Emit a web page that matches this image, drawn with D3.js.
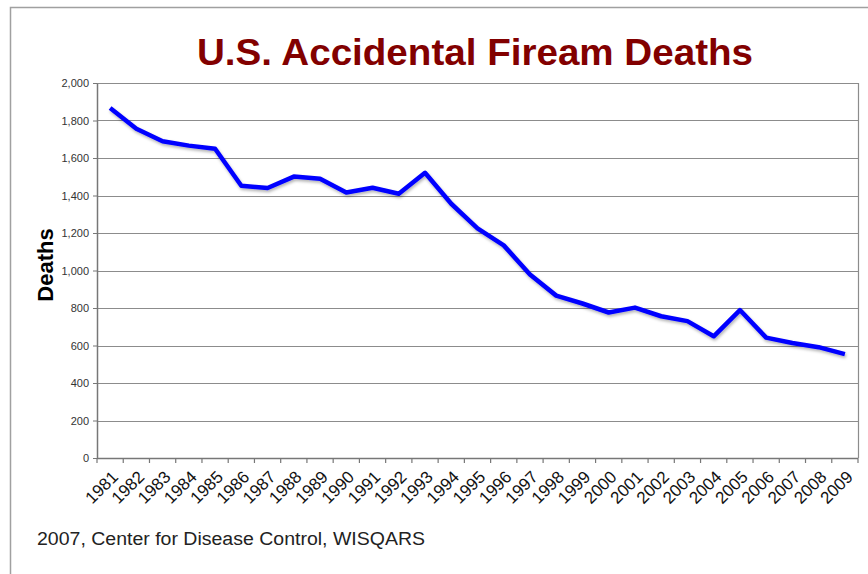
<!DOCTYPE html>
<html>
<head>
<meta charset="utf-8">
<script src="https://cdn.jsdelivr.net/npm/d3@7"></script>
<style>
  body { margin: 0; background: #fff; }
  svg { font-family: Arial, "Liberation Sans", sans-serif; }
</style>
</head>
<body>
<svg id="svg0" width="868" height="574"></svg>
<script>
// data
var years = ['1981','1982','1983','1984','1985','1986','1987','1988','1989','1990',
    '1991','1992','1993','1994','1995','1996','1997','1998','1999','2000',
    '2001','2002','2003','2004','2005','2006','2007','2008','2009'];
var deaths = [1867,1756,1689,1666,1649,1452,1440,1501,1489,1416,
    1441,1409,1521,1356,1225,1134,979,866,824,776,
    802,756,730,649,789,642,613,591,554];
var yTicks = [0,200,400,600,800,1000,1200,1400,1600,1800,2000];

var marginLeft = 97, marginTop = 83;
var plotW = 761, plotH = 375;

var svg0 = d3.select('#svg0');

// outer frame
svg0.append('rect')
    .attr('x', 10.5).attr('y', 7.5)
    .attr('width', 900).attr('height', 600)
    .attr('fill', 'none')
    .attr('stroke', '#a0a0a0')
    .attr('stroke-width', 1.5);

var defs = svg0.append('defs');
var f = defs.append('filter').attr('id', 'shadow')
    .attr('x', '-5%').attr('y', '-5%').attr('width', '110%').attr('height', '120%');
f.append('feDropShadow')
    .attr('dx', 1).attr('dy', 2).attr('stdDeviation', 1.5)
    .attr('flood-color', '#000').attr('flood-opacity', 0.3);

var g = svg0.append('g')
    .attr('transform', 'translate(' + marginLeft + ',' + marginTop + ')');

var x = d3.scaleBand().domain(years).range([0, plotW]);
var y = d3.scaleLinear().domain([0, 2000]).range([plotH, 0]);

// gridlines
g.selectAll('line.grid')
    .data(yTicks.filter(function(d){ return d > 0; }))
    .enter()
    .append('line')
    .attr('class', 'grid')
    .attr('x1', 0).attr('x2', plotW)
    .attr('y1', function(d){ return Math.round(y(d)) + 0.5; })
    .attr('y2', function(d){ return Math.round(y(d)) + 0.5; })
    .attr('stroke', '#8c8c8c')
    .attr('stroke-width', 1.2);

// right border of plot
g.append('line')
    .attr('x1', plotW + 0.5).attr('x2', plotW + 0.5)
    .attr('y1', 0).attr('y2', plotH)
    .attr('stroke', '#8c8c8c')
    .attr('stroke-width', 1.2);

// y axis
var yAxis = g.append('g')
    .call(d3.axisLeft(y).tickValues(yTicks).tickSize(4).tickSizeOuter(0)
        .tickFormat(d3.format(',')));
yAxis.select('.domain').attr('stroke', '#777').attr('stroke-width', 1.5);
yAxis.selectAll('.tick line').attr('stroke', '#777');
yAxis.selectAll('text')
    .attr('font-size', 11)
    .attr('fill', '#333')
    .attr('x', -8);

// x axis with ticks at category boundaries
var xAxis = g.append('g')
    .attr('transform', 'translate(0,' + plotH + ')');
xAxis.append('line')
    .attr('x1', 0).attr('x2', plotW)
    .attr('y1', 0.5).attr('y2', 0.5)
    .attr('stroke', '#777').attr('stroke-width', 1.5);
xAxis.selectAll('line.tk')
    .data(years.concat(['end']))
    .enter()
    .append('line')
    .attr('class', 'tk')
    .attr('x1', function(d, i){ return i * x.bandwidth(); })
    .attr('x2', function(d, i){ return i * x.bandwidth(); })
    .attr('y1', 0).attr('y2', 5)
    .attr('stroke', '#777').attr('stroke-width', 1.2);
xAxis.selectAll('text')
    .data(years)
    .enter()
    .append('text')
    .attr('transform', function(d){
        return 'translate(' + (x(d) + x.bandwidth() / 2 + 9) + ',20) rotate(-45)';
    })
    .attr('text-anchor', 'end')
    .attr('font-size', 17)
    .attr('fill', '#111')
    .text(function(d){ return d; });

// the line
var line = d3.line()
    .x(function(d, i){ return x(years[i]) + x.bandwidth() / 2; })
    .y(function(d){ return y(d); });

g.append('path')
    .datum(deaths)
    .attr('d', line)
    .attr('fill', 'none')
    .attr('stroke', '#0000ff')
    .attr('stroke-width', 4.5)
    .attr('stroke-linejoin', 'round')
    .attr('filter', 'url(#shadow)');

// title
svg0.append('text')
    .attr('x', 475).attr('y', 65)
    .attr('text-anchor', 'middle')
    .attr('font-size', 37)
    .attr('font-weight', 'bold')
    .attr('fill', '#820000')
    .attr('textLength', 556)
    .attr('lengthAdjust', 'spacingAndGlyphs')
    .text('U.S. Accidental Fiream Deaths');

// y label
svg0.append('text')
    .attr('transform', 'translate(53,265) rotate(-90)')
    .attr('text-anchor', 'middle')
    .attr('font-size', 22)
    .attr('font-weight', 'bold')
    .attr('fill', '#000')
    .text('Deaths');

// source
svg0.append('text')
    .attr('x', 37).attr('y', 545)
    .attr('font-size', 18)
    .attr('fill', '#222')
    .attr('textLength', 388)
    .attr('lengthAdjust', 'spacingAndGlyphs')
    .text('2007, Center for Disease Control, WISQARS');
</script>
</body>
</html>
